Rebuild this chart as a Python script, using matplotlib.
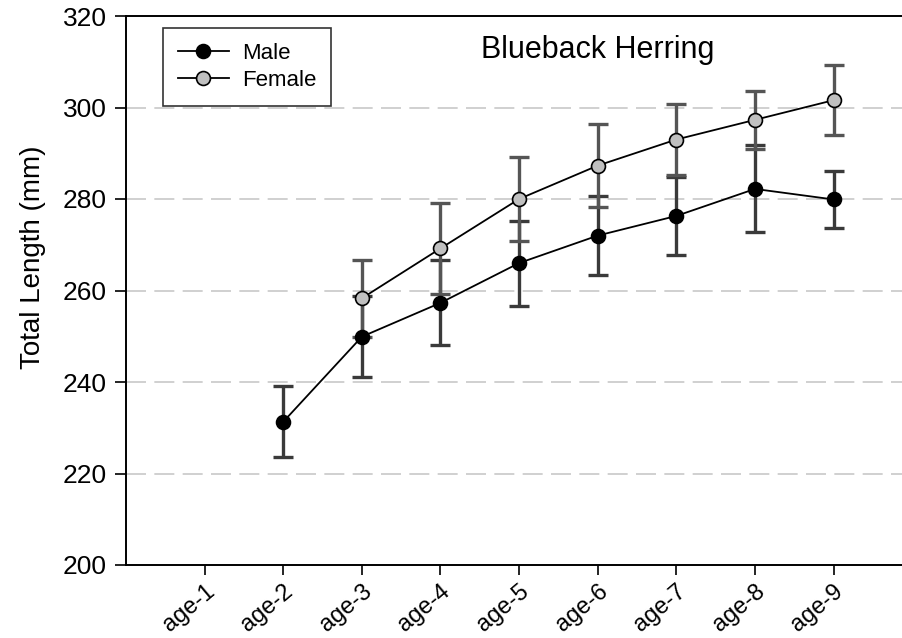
import matplotlib.pyplot as plt
import numpy as np

plt.rcParams["font.family"] = ["Liberation Sans", "DejaVu Sans"]

ages = ["age-1", "age-2", "age-3", "age-4", "age-5", "age-6", "age-7", "age-8", "age-9"]

# mean total length and standard deviation (mm)
male_x = [2, 3, 4, 5, 6, 7, 8, 9]
male_mean = [231.3, 249.9, 257.3, 266.0, 272.0, 276.3, 282.2, 279.9]
male_sd = [7.8, 8.8, 9.3, 9.3, 8.7, 8.6, 9.5, 6.2]

female_x = [3, 4, 5, 6, 7, 8, 9]
female_mean = [258.3, 269.2, 280.0, 287.3, 293.0, 297.3, 301.6]
female_sd = [8.4, 9.9, 9.1, 9.1, 7.8, 6.3, 7.6]

fig = plt.figure(figsize=(9.02, 6.38), dpi=100)
ax = fig.add_axes([126 / 902, 1 - 565 / 638, 1 - 126 / 902, 549 / 638])

# dashed horizontal grid
for yv in [220, 240, 260, 280, 300]:
    ax.axhline(yv, color="#c8c8c8", lw=1.2, dashes=(12, 5), zorder=0)

ax.errorbar(male_x, male_mean, yerr=male_sd, fmt="none", ecolor="#3a3a3a",
            elinewidth=2.4, capsize=7.5, capthick=2.4, zorder=2)
ax.errorbar(female_x, female_mean, yerr=female_sd, fmt="none", ecolor="#555555",
            elinewidth=2.4, capsize=7.5, capthick=2.4, zorder=2)

ax.plot(male_x, male_mean, "-o", color="black", lw=1.3, ms=10,
        mfc="black", mec="black", mew=1.2, label="Male", zorder=3)
ax.plot(female_x, female_mean, "-o", color="black", lw=1.3, ms=10,
        mfc="#c0c0c0", mec="black", mew=1.2, label="Female", zorder=3)

ax.set_xlim(0, 9.87)
ax.set_ylim(200, 320)
ax.set_xticks(range(1, 10))
ax.set_xticklabels(ages, rotation=40, ha="right", rotation_mode="anchor", fontsize=17)
ax.set_yticks(range(200, 321, 20))
ax.tick_params(axis="y", labelsize=19, length=8, width=1.2, direction="out", pad=6)
ax.tick_params(axis="x", length=7, width=1.2, direction="out", pad=4)
ax.spines["right"].set_visible(False)
for s in ["left", "bottom", "top"]:
    ax.spines[s].set_linewidth(1.4)
ax.set_ylabel("Total Length (mm)", fontsize=20)
ax.yaxis.set_label_coords(-0.103, 0.561)

ax.text(0.608, 0.938, "Blueback Herring", transform=ax.transAxes, fontsize=22,
        ha="center", va="center")

leg = ax.legend(loc="upper left", bbox_to_anchor=(0.048, 0.978), borderaxespad=0,
                fontsize=16, frameon=True, fancybox=False, edgecolor="black",
                borderpad=0.65, handlelength=2.3, handletextpad=0.6, labelspacing=0.3)
leg.get_frame().set_linewidth(1.2)

fig.savefig("out.png", dpi=100)
